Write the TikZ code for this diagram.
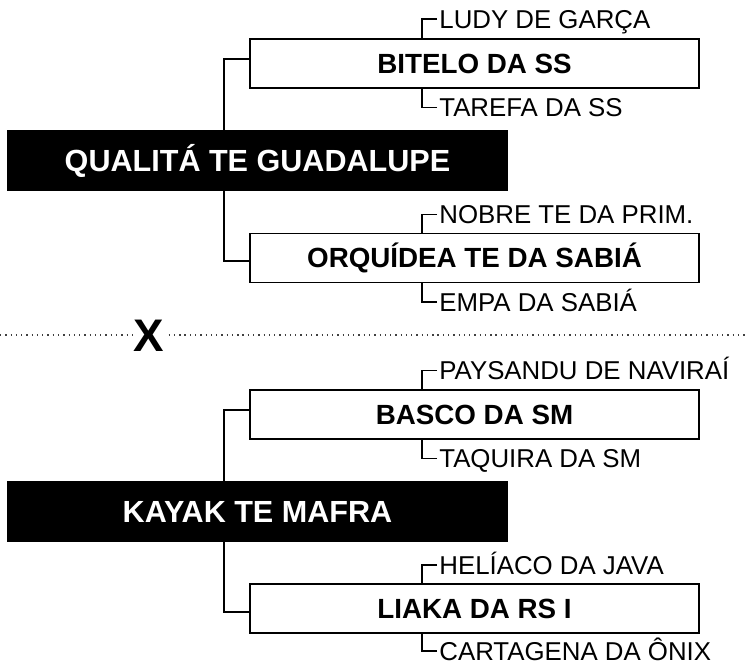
\documentclass[tikz,border=0pt]{standalone}
\usepackage{fontspec}
\setmainfont{Liberation Sans}
\usetikzlibrary{positioning}

\begin{document}
\begin{tikzpicture}[x=0.02cm,y=-0.02cm,
  team/.style={fill=black,text=white,minimum width=10.02cm,minimum height=1.22cm,inner sep=0pt,
    font=\bfseries\fontsize{17.4pt}{20pt}\selectfont,text height=12.5pt,text depth=0pt},
  club/.style={draw,line width=1.1pt,fill=white,minimum width=8.98cm,minimum height=0.98cm,inner sep=0pt,
    font=\bfseries\fontsize{15.8pt}{18pt}\selectfont,text height=11.3pt,text depth=0pt},
  pick/.style={anchor=west,inner sep=0pt,font=\fontsize{14.7pt}{17pt}\selectfont,text height=10.5pt,text depth=0pt},
  link/.style={line width=1.1pt},
  tick/.style={line width=0.9pt},
  splitline/.style={line width=0.75pt,black!75,dash pattern=on 0.75pt off 2.25pt},
  versus/.style={fill=white,inner sep=0.5pt,font=\bfseries\fontsize{26pt}{28pt}\selectfont,text height=18.6pt,text depth=0pt}]
  \useasboundingbox (0,0) rectangle (745,663);
  \node[team] (q) at (257.5,160.5) {QUALITÁ TE GUADALUPE};
  \node[club] (b1) at (474.5,63.5) {BITELO DA SS};
  \node[club] (b2) at (474.5,258) {ORQUÍDEA TE DA SABIÁ};
  \draw[link] ([yshift=0.09cm]b1.west) -| ([xshift=-0.67cm]q.north);
  \draw[link] ([yshift=-0.06cm]b2.west) -| ([xshift=-0.67cm]q.south);
  \node[pick] (p1) at ([xshift=3.8cm,yshift=0.38cm]b1.north west) {LUDY DE GARÇA};
  \node[pick] (p2) at ([xshift=3.8cm,yshift=-0.37cm]b1.south west) {TAREFA DA SS};
  \node[pick] (p3) at ([xshift=3.8cm,yshift=0.36cm]b2.north west) {NOBRE TE DA PRIM.};
  \node[pick] (p4) at ([xshift=3.8cm,yshift=-0.37cm]b2.south west) {EMPA DA SABIÁ};
  \draw[tick] ([xshift=-0.04cm]p1.west) -| ([xshift=-1.05cm]b1.north);
  \draw[tick] ([xshift=-0.04cm]p2.west) -| ([xshift=-1.05cm]b1.south);
  \draw[tick] ([xshift=-0.04cm]p3.west) -| ([xshift=-1.05cm]b2.north);
  \draw[tick] ([xshift=-0.04cm]p4.west) -| ([xshift=-1.05cm]b2.south);
%--------------------------------------------------------------------------------
  \coordinate (sepL) at (0,335);
  \coordinate (sepR) at (745,335);
  \draw[splitline] (sepL) -- (sepR);
  \node[versus] (vs) at (149,335.5) {X};
%--------------------------------------------------------------------------------
  \node[team] (k) at (257.5,511.5) {KAYAK TE MAFRA};
  \node[club] (b3) at (474.5,414.5) {BASCO DA SM};
  \node[club] (b4) at (474.5,608.5) {LIAKA DA RS I};
  \draw[link] ([yshift=0.09cm]b3.west) -| ([xshift=-0.67cm]k.north);
  \draw[link] ([yshift=-0.07cm]b4.west) -| ([xshift=-0.67cm]k.south);
  \node[pick] (p5) at ([xshift=3.8cm,yshift=0.37cm]b3.north west) {PAYSANDU DE NAVIRAÍ};
  \node[pick] (p6) at ([xshift=3.8cm,yshift=-0.37cm]b3.south west) {TAQUIRA DA SM};
  \node[pick] (p7) at ([xshift=3.8cm,yshift=0.36cm]b4.north west) {HELÍACO DA JAVA};
  \node[pick] (p8) at ([xshift=3.8cm,yshift=-0.34cm]b4.south west) {CARTAGENA DA ÔNIX};
  \draw[tick] ([xshift=-0.04cm]p5.west) -| ([xshift=-1.05cm]b3.north);
  \draw[tick] ([xshift=-0.04cm]p6.west) -| ([xshift=-1.05cm]b3.south);
  \draw[tick] ([xshift=-0.04cm]p7.west) -| ([xshift=-1.05cm]b4.north);
  \draw[tick] ([xshift=-0.04cm]p8.west) -| ([xshift=-1.05cm]b4.south);
\end{tikzpicture}
\end{document}
